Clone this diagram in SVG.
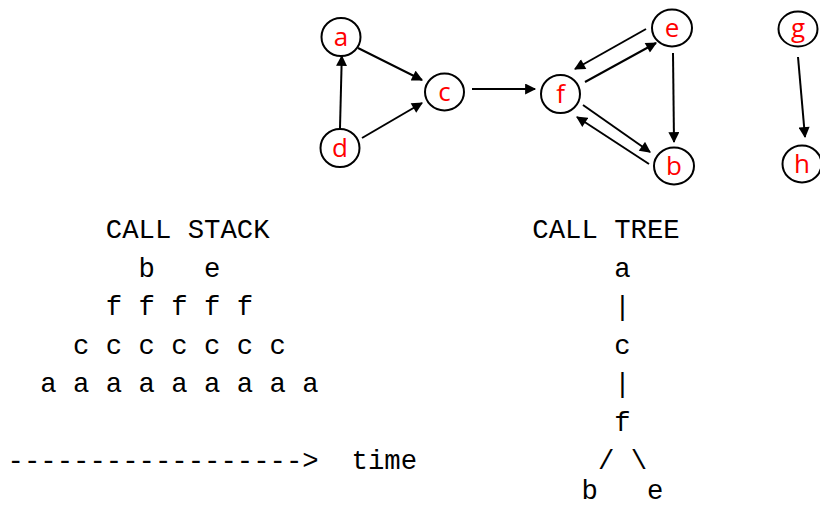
<svg xmlns="http://www.w3.org/2000/svg" width="820" height="508" viewBox="0 0 820 508">
  <style>
    .node ellipse { fill: #fff; stroke: #000; stroke-width: 2; }
    .node text { font-family: "Open Sans", "Liberation Sans", sans-serif; font-size: 26px; fill: #ff0000; text-anchor: middle; }
    .edge { stroke: #000; stroke-width: 2; fill: none; marker-end: url(#arrow); }
    .tt { font-family: "Liberation Mono", "DejaVu Sans Mono", monospace; font-size: 27.3px; fill: #000; white-space: pre; }
  </style>
  <defs>
    <marker id="arrow" viewBox="0 0 10 10" refX="9" refY="5" markerWidth="6" markerHeight="5.5" orient="auto" markerUnits="strokeWidth">
      <path d="M0,0 L10,5 L0,10 z" fill="#000"/>
    </marker>
  </defs>
  <rect width="820" height="508" fill="#fff"/>

  <!-- directed graph -->
  <g id="connectors">
    <line class="edge" x1="340" y1="128" x2="341.8" y2="56"/>
    <line class="edge" x1="358" y1="48" x2="422" y2="80"/>
    <line class="edge" x1="362" y1="138" x2="422" y2="103"/>
    <line class="edge" x1="472" y1="89" x2="535" y2="89"/>
    <line class="edge" x1="585" y1="82" x2="656" y2="43"/>
    <line class="edge" x1="646" y1="29" x2="575" y2="69"/>
    <line class="edge" x1="583" y1="105" x2="650" y2="152"/>
    <line class="edge" x1="649" y1="164" x2="577" y2="117"/>
    <line class="edge" x1="673" y1="53" x2="674" y2="142"/>
    <line class="edge" x1="798" y1="57" x2="805" y2="137"/>
  </g>

  <g id="node-a" class="node"><ellipse cx="341" cy="37" rx="19.5" ry="19"/><text x="341" y="46">a</text></g>
  <g id="node-d" class="node"><ellipse cx="340" cy="148" rx="19.5" ry="19"/><text x="340" y="157">d</text></g>
  <g id="node-c" class="node"><ellipse cx="444.5" cy="92" rx="19.5" ry="18.5"/><text x="444.5" y="101">c</text></g>
  <g id="node-f" class="node"><ellipse cx="560.5" cy="94" rx="19.5" ry="19"/><text x="560.5" y="103">f</text></g>
  <g id="node-e" class="node"><ellipse cx="672" cy="28" rx="20" ry="18.5"/><text x="672" y="37">e</text></g>
  <g id="node-b" class="node"><ellipse cx="674" cy="166" rx="20" ry="18.5"/><text x="674" y="175">b</text></g>
  <g id="node-g" class="node"><ellipse cx="798" cy="29" rx="19.5" ry="17.5"/><text x="798" y="37">g</text></g>
  <g id="node-h" class="node"><ellipse cx="802" cy="164" rx="19.5" ry="18.5"/><text x="802" y="173">h</text></g>

  <!-- call stack over time -->
  <g id="call-stack" class="tt">
    <text x="7.5" y="238" xml:space="preserve">      CALL STACK</text>
    <text x="7.5" y="276.5" xml:space="preserve">        b   e</text>
    <text x="7.5" y="315" xml:space="preserve">      f f f f f</text>
    <text x="7.5" y="353.5" xml:space="preserve">    c c c c c c c</text>
    <text x="7.5" y="392" xml:space="preserve">  a a a a a a a a a</text>
    <text x="7.5" y="469" xml:space="preserve">------------------&gt;  time</text>
  </g>

  <!-- call tree -->
  <g id="call-tree" class="tt">
    <text x="532.3" y="238">CALL TREE</text>
    <text x="614.3" y="276.5">a</text>
    <text x="614.3" y="315">|</text>
    <text x="614.3" y="353.5">c</text>
    <text x="614.3" y="392">|</text>
    <text x="614.3" y="430.5">f</text>
    <text x="597.9" y="469" xml:space="preserve">/ \</text>
    <text x="581.5" y="499" xml:space="preserve">b   e</text>
  </g>
</svg>
